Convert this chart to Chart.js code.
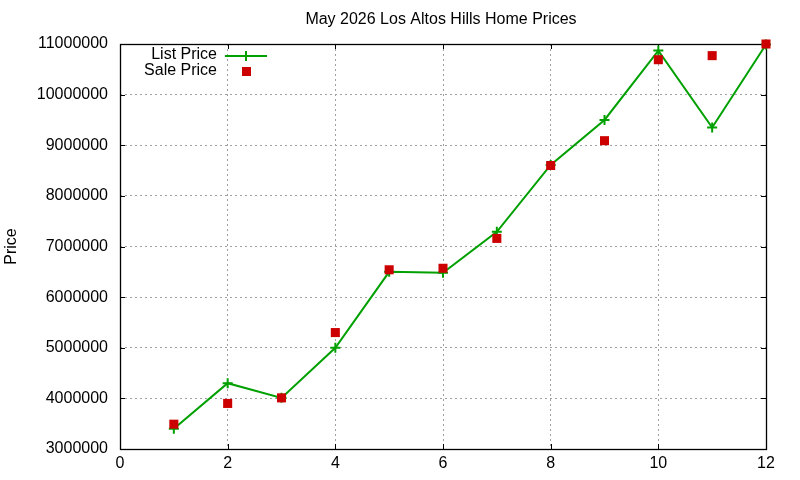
<!DOCTYPE html>
<html><head><meta charset="utf-8">
<script src="https://cdn.jsdelivr.net/npm/chart.js@4"></script>
<style>html,body{margin:0;padding:0;background:#fff}#wrap{width:800px;height:480px}</style>
</head><body><div id="wrap"><canvas id="c" width="800" height="480"></canvas></div>
<script>
const titleText = "May 2026 Los Altos Hills Home Prices";
const yAxisLabel = "Price";
const months = [1, 2, 3, 4, 5, 6, 7, 8, 9, 10, 11, 12];
const listPrice = [3400000, 4300000, 4010000, 5000000, 6500000, 6480000, 7290000, 8610000, 9500000, 10870000, 9350000, 10990000];
const salePrice = [3490000, 3900000, 4010000, 5300000, 6540000, 6570000, 7160000, 8600000, 9090000, 10690000, 10770000, 11000000];
const seriesNames = ["List Price", "Sale Price"];
const xTicks = [0, 2, 4, 6, 8, 10, 12];
const yTicks = [3000000, 4000000, 5000000, 6000000, 7000000, 8000000, 9000000, 10000000, 11000000];

const GREEN = '#00a000', RED = '#cc0000';
const FONT = "'Liberation Sans', Arial, sans-serif";

const deco = {
  id: 'deco',
  beforeDatasetsDraw(chart) {
    const ctx = chart.ctx, a = chart.chartArea;
    const xs = chart.scales.x, ys = chart.scales.y;
    ctx.save();
    ctx.strokeStyle = '#000'; ctx.lineWidth = 1;
    const L = 5;
    ctx.beginPath();
    yTicks.forEach(v => {
      const y = Math.round(ys.getPixelForValue(v)) + 0.5;
      ctx.moveTo(a.left, y); ctx.lineTo(a.left + L, y);
      ctx.moveTo(a.right, y); ctx.lineTo(a.right - L, y);
    });
    xTicks.forEach(v => {
      const x = Math.round(xs.getPixelForValue(v)) + 0.5;
      ctx.moveTo(x, a.bottom); ctx.lineTo(x, a.bottom - L);
      ctx.moveTo(x, a.top); ctx.lineTo(x, a.top + L);
    });
    ctx.stroke();
    ctx.lineWidth = 1.3;
    ctx.strokeRect(Math.round(a.left) + 0.5, Math.round(a.top) + 0.5, Math.round(a.right - a.left), Math.round(a.bottom - a.top));
    ctx.restore();
  },
  afterDraw(chart) {
    const ctx = chart.ctx, a = chart.chartArea;
    ctx.save();
    ctx.fillStyle = '#000';
    ctx.font = '16px ' + FONT;
    ctx.textAlign = 'center'; ctx.textBaseline = 'middle';
    ctx.fillText(titleText, (a.left + a.right) / 2 - 2, 20);
    ctx.save();
    ctx.translate(12, (a.top + a.bottom) / 2);
    ctx.rotate(-Math.PI / 2);
    ctx.fillText(yAxisLabel, 0, 0);
    ctx.restore();
    ctx.textAlign = 'right';
    ctx.fillText(seriesNames[0], 217, 55);
    ctx.fillText(seriesNames[1], 217, 71);
    ctx.strokeStyle = GREEN; ctx.lineWidth = 2;
    ctx.beginPath(); ctx.moveTo(225, 56); ctx.lineTo(267, 56);
    ctx.moveTo(246, 51); ctx.lineTo(246, 61);
    ctx.stroke();
    ctx.fillStyle = RED;
    ctx.fillRect(242, 67, 9, 9);
    ctx.restore();
  }
};

new Chart(document.getElementById('c'), {
  type: 'scatter',
  data: {
    datasets: [
      {
        label: seriesNames[0],
        data: months.map((m, i) => ({ x: m, y: listPrice[i] })),
        showLine: true, clip: false,
        borderColor: GREEN, backgroundColor: GREEN,
        borderWidth: 2,
        pointStyle: 'cross', pointRadius: 5, pointBorderWidth: 2,
        pointBorderColor: GREEN,
        tension: 0, order: 2
      },
      {
        label: seriesNames[1],
        data: months.map((m, i) => ({ x: m, y: salePrice[i] })),
        showLine: false, clip: false,
        borderColor: RED, backgroundColor: RED,
        pointStyle: 'rect', pointRadius: 6.4, pointBorderWidth: 0,
        order: 1
      }
    ]
  },
  options: {
    responsive: false, animation: false,
    devicePixelRatio: 1,
    layout: { padding: { left: 0, right: 34, top: 44, bottom: 0 } },
    plugins: { legend: { display: false }, title: { display: false }, tooltip: { enabled: false } },
    scales: {
      x: {
        type: 'linear', min: 0, max: 12,
        afterFit(s) { s.height = 31; },
        afterBuildTicks(s) { s.ticks = xTicks.map(v => ({ value: v })); },
        ticks: { color: '#000', font: { family: FONT, size: 16 }, padding: 5, maxRotation: 0 },
        grid: { color: '#a0a0a0', lineWidth: 1, drawTicks: false },
        border: { display: false, dash: [2, 3] }
      },
      y: {
        min: 3000000, max: 11000000,
        afterFit(s) { s.width = 120; },
        afterBuildTicks(s) { s.ticks = yTicks.map(v => ({ value: v })); },
        ticks: { color: '#000', font: { family: FONT, size: 16 }, padding: 12, callback: v => String(v) },
        grid: { color: '#a0a0a0', lineWidth: 1, drawTicks: false },
        border: { display: false, dash: [2, 3] }
      }
    }
  },
  plugins: [deco]
});
</script></body></html>
